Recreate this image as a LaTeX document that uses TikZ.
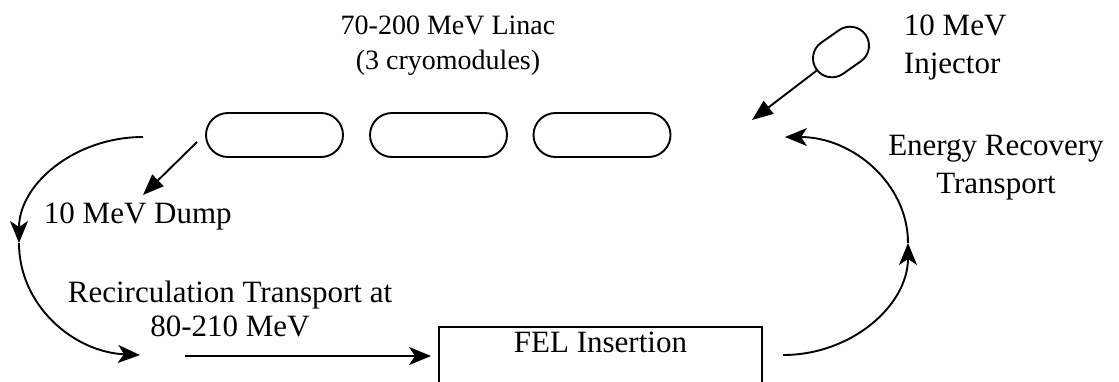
\documentclass[tikz,border=0pt]{standalone}
\usepackage{fontspec}
\setmainfont{Liberation Serif}
\usetikzlibrary{arrows.meta,shapes.misc}
\begin{document}
\begin{tikzpicture}[x=1pt,y=-1pt,line width=1.9pt,
  module/.style={draw, rounded rectangle, minimum width=137pt, minimum height=44pt, inner sep=0pt},
  inject/.style={draw, rounded rectangle, minimum width=60pt, minimum height=38pt, inner sep=0pt, rotate=35},
  lab/.style={font=\fontsize{31}{34}\selectfont, align=center, inner sep=0pt},
  arr/.style={-{Stealth[length=22pt,width=18pt,inset=6pt]}},
  tri/.style={-{Triangle[length=21pt,width=16pt]}}]
\clip (0,0) rectangle (1119,381);
\fill[white] (0,0) rectangle (1119,381);
% cryomodules
\node[module] (m1) at (274.5,135) {};
\node[module] (m2) at (438.5,135) {};
\node[module] (m3) at (602,135) {};
% injector
\node[inject] (inj) at (841,52) {};
% labels
\node[lab, font=\fontsize{28}{35}\selectfont] (linac) at (448,46) {70-200 MeV Linac\\(3 cryomodules)};
\node[lab, align=left, anchor=west, font=\fontsize{31}{38}\selectfont] (injl) at (903,47) {10 MeV\\Injector};
\node[lab, font=\fontsize{31}{38}\selectfont] (erl) at (996,168) {Energy Recovery\\Transport};
\node[lab, anchor=base west] (dump) at (43,223) {10 MeV Dump};
\node[lab] (recl) at (230,309) {Recirculation Transport at\\80-210 MeV};
% FEL insertion
\node[draw, inner sep=0pt, minimum width=323pt, text height=25pt, text depth=60pt, anchor=base, font=\fontsize{31}{34}\selectfont] (fel) at (600.5,352) {FEL Insertion};
% coordinates
\coordinate (injend) at (752,120);
\coordinate (dumps) at (197,142);
\coordinate (dumpe) at (143,195);
\coordinate (la) at (143,137);
\coordinate (lb) at (19,243);
\coordinate (lc) at (140,355);
\coordinate (hs) at (185,356);
\coordinate (ra) at (783,355);
\coordinate (rb) at (908,243);
\coordinate (rc) at (785,137);
% connectors
\draw[tri] (inj) -- (injend);
\draw[tri] (dumps) -- (dumpe);
\draw[arr] (la) .. controls (75,137) and (19,184) .. (lb);
\draw[arr] (lb) .. controls (19,305) and (73,352) .. (lc);
\draw[arr, shorten >=7pt] (hs) -- (hs -| fel.west);
\draw[arr] (ra) .. controls (852,355) and (908,305) .. (rb);
\draw[arr] (rb) .. controls (908,184) and (853,137) .. (rc);
\end{tikzpicture}
\end{document}
